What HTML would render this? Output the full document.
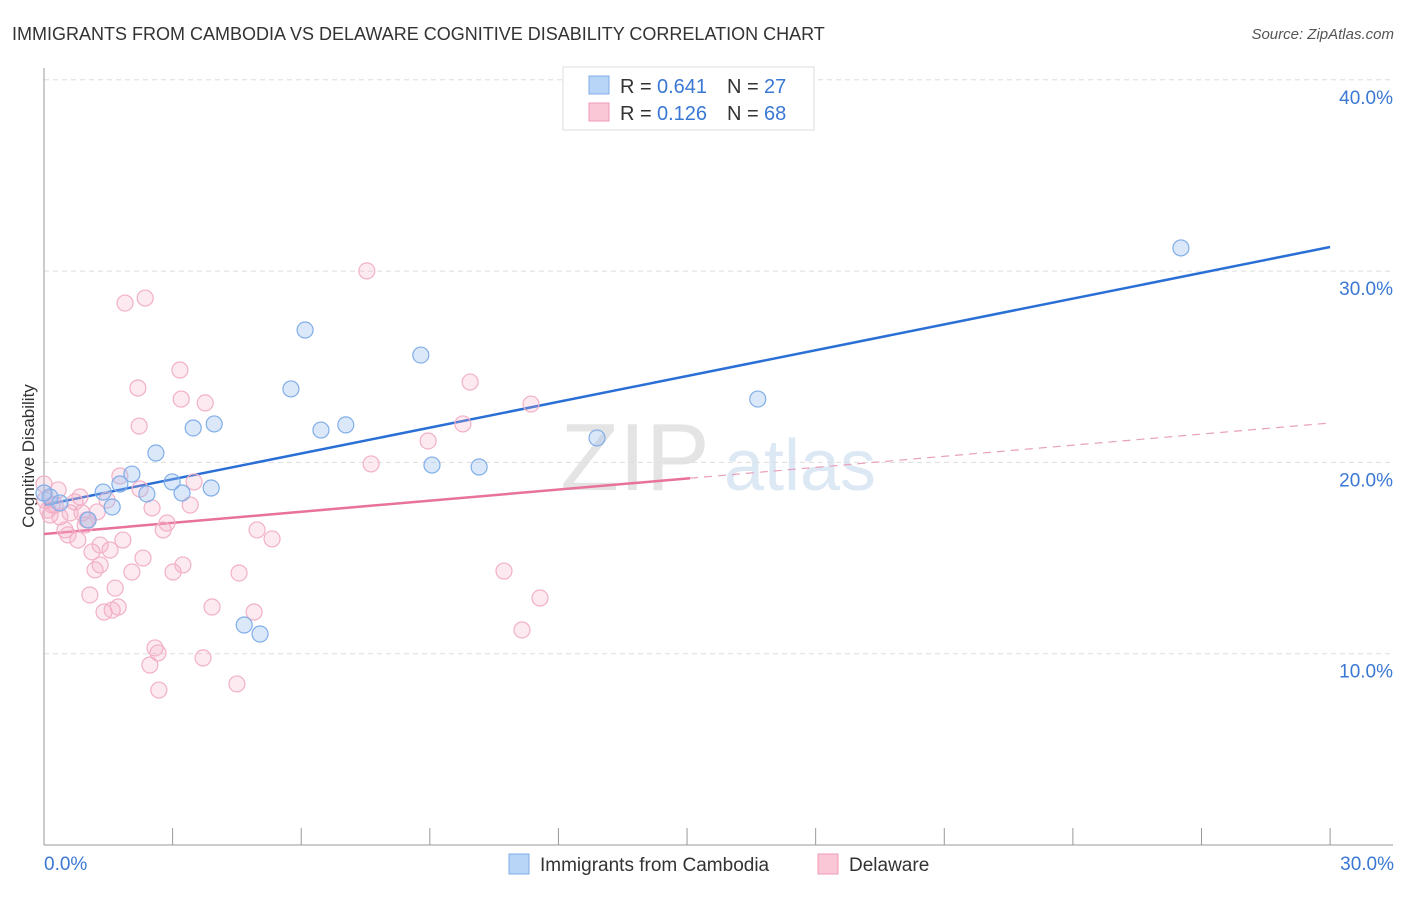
<!DOCTYPE html>
<html><head><meta charset="utf-8"><style>
body{margin:0;background:#fff;font-family:"Liberation Sans",sans-serif;}
svg text{font-family:"Liberation Sans",sans-serif;}
</style></head><body>
<svg id="chart" width="1406" height="892" xmlns="http://www.w3.org/2000/svg">
<text x="12" y="40" font-size="18" fill="#333">IMMIGRANTS FROM CAMBODIA VS DELAWARE COGNITIVE DISABILITY CORRELATION CHART</text>
<text x="1394" y="39" font-size="15" fill="#555" font-style="italic" text-anchor="end">Source: ZipAtlas.com</text>
<text x="34" y="456" font-size="17" fill="#333" text-anchor="middle" transform="rotate(-90 34 456)">Cognitive Disability</text>
<text x="635" y="490" font-size="96" fill="#e4e4e4" font-family="Liberation Serif" text-anchor="middle">ZIP</text>
<text x="800" y="490" font-size="72" fill="#dde8f5" text-anchor="middle">atlas</text>
<g id="grid"></g><g id="axes"></g><g id="trend"></g><g id="pts"></g>
<g>
<rect x="563" y="67" width="251" height="63" fill="#fff" stroke="#ddd"/>
<rect x="589" y="76" width="20" height="18" fill="#b8d4f6" stroke="#80aee8"/>
<text x="620" y="93" font-size="20" fill="#333">R =</text><text x="657" y="93" font-size="20" fill="#3a78d4">0.641</text>
<text x="727" y="93" font-size="20" fill="#333">N =</text><text x="764" y="93" font-size="20" fill="#3a78d4">27</text>
<rect x="589" y="103" width="20" height="18" fill="#f9c7d6" stroke="#f09ab6"/>
<text x="620" y="120" font-size="20" fill="#333">R =</text><text x="657" y="120" font-size="20" fill="#3a78d4">0.126</text>
<text x="727" y="120" font-size="20" fill="#333">N =</text><text x="764" y="120" font-size="20" fill="#3a78d4">68</text>
</g>
<g>
<rect x="509" y="854" width="20" height="20" fill="#b8d4f6" stroke="#80aee8"/>
<text x="540" y="871" font-size="19" fill="#333">Immigrants from Cambodia</text>
<rect x="818" y="854" width="20" height="20" fill="#f9c7d6" stroke="#f09ab6"/>
<text x="849" y="871" font-size="19" fill="#333">Delaware</text>
</g>
</svg>
<script>
const blueX=[0.14,0.37,1.03,1.38,1.59,1.77,2.05,2.40,2.61,2.99,3.22,3.48,3.90,3.97,4.67,5.04,5.76,6.09,6.46,7.04,8.79,9.05,10.15,12.90,16.65,26.52,0];
const blueY=[18.19,17.88,16.99,18.45,17.67,18.87,19.39,18.35,20.49,18.98,18.40,21.80,18.66,22.01,11.50,11.03,23.84,26.92,21.69,21.96,25.61,19.86,19.76,21.28,23.31,31.21,18.4];
const pinkX=[0,.14,.26,.37,.49,.61,.72,.79,.84,.96,1.07,1.12,1.19,1.24,1.31,1.40,1.47,1.54,1.59,1.66,1.73,1.77,1.84,1.89,2.05,2.19,2.22,2.24,2.31,2.36,2.47,2.52,2.59,2.66,2.68,2.78,2.87,3.01,3.17,3.20,3.24,3.41,3.50,3.71,3.76,3.92,4.50,4.55,4.90,4.97,5.32,7.53,7.63,8.96,9.77,9.94,10.73,11.15,11.36,11.57,.02,.19,.33,.56,.89,1.31,1.00,.09];
const pinkY=[18.87,17.25,17.77,17.15,16.47,17.36,17.93,15.94,18.19,16.73,13.07,15.32,14.38,17.41,14.64,12.18,18.03,15.42,12.28,13.43,12.44,19.29,15.94,28.33,14.27,23.89,21.90,18.61,15.00,28.59,9.41,17.62,10.30,10.04,8.10,16.47,16.83,14.27,24.83,23.31,14.64,17.77,18.98,9.78,23.11,12.44,8.42,14.22,12.18,16.47,16.00,30.01,19.92,21.12,22.01,24.20,14.32,11.24,23.05,12.91,18.03,17.77,18.56,16.21,17.36,15.68,16.99,17.51];
const yTicks=[10,20,30,40];
const yTickLabels=["10.0%","20.0%","30.0%","40.0%"];
const xTickLabels=["0.0%","30.0%"];
const blueTrend=[17.77,31.26];
const pinkTrend=[16.26,22.06];
const pinkSolidEnd=15.07;
const NS="http://www.w3.org/2000/svg";
const sx=v=>44+v*42.87, sy=v=>845-v*19.13;
function mk(t,a,p){const e=document.createElementNS(NS,t);for(const k in a)e.setAttribute(k,a[k]);p.appendChild(e);return e;}
const grid=document.getElementById('grid'),axes=document.getElementById('axes'),trend=document.getElementById('trend'),pts=document.getElementById('pts');
yTicks.forEach((t,i)=>{
 const l=mk('line',{x1:44,x2:1393,y1:sy(t),y2:sy(t),stroke:'#ddd','stroke-dasharray':'5,4'},grid);
 
 
 const tx=mk('text',{x:1393,y:sy(t)+24,'font-size':19,fill:'#3a78d4','text-anchor':'end'},axes);
 tx.textContent=yTickLabels[i];
 
 
});
mk('line',{x1:44,x2:44,y1:68,y2:845,stroke:'#999'},axes);
mk('line',{x1:44,x2:1393,y1:845,y2:845,stroke:'#999'},axes);
for(let i=0;i<=10;i++){mk('line',{x1:sx(i*3),x2:sx(i*3),y1:828,y2:845,stroke:'#999'},axes);}
xTickLabels.forEach((s,i)=>{
 const tx=mk('text',{x:i?1394:44,y:870,'font-size':19,fill:'#3a78d4','text-anchor':i?'end':'start'},axes);
 tx.textContent=s;
 
 
});
const pr=x=>pinkTrend[0]+(pinkTrend[1]-pinkTrend[0])*x/30;
let t1=mk('line',{x1:sx(0),y1:sy(pinkTrend[0]),x2:sx(pinkSolidEnd),y2:sy(pr(pinkSolidEnd)),stroke:'#e8729a','stroke-width':2.5},trend);


let t2=mk('line',{x1:sx(pinkSolidEnd),y1:sy(pr(pinkSolidEnd)),x2:sx(30),y2:sy(pinkTrend[1]),stroke:'#e8a0b8','stroke-width':1.2,'stroke-dasharray':'8,6'},trend);


pinkX.forEach((x,i)=>{
 const c=mk('circle',{cx:sx(x),cy:sy(pinkY[i]),r:8,fill:'rgba(245,170,195,0.25)',stroke:'#f2b0c6','stroke-width':1.2},pts);
 
 
});
blueX.forEach((x,i)=>{
 const c=mk('circle',{cx:sx(x),cy:sy(blueY[i]),r:8,fill:'rgba(150,190,240,0.35)',stroke:'#80aee8','stroke-width':1.2},pts);
 
 
});
let t3=mk('line',{x1:sx(0),y1:sy(blueTrend[0]),x2:sx(30),y2:sy(blueTrend[1]),stroke:'#2a6fd6','stroke-width':2.5},trend);


</script>
</body></html>
